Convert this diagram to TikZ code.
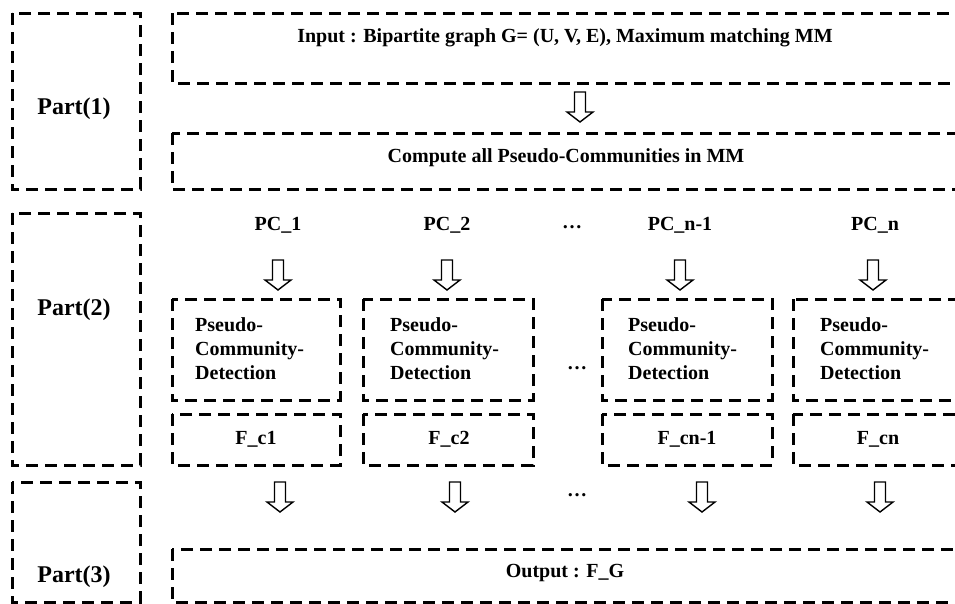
\documentclass[tikz,border=0pt]{standalone}
\usepackage{fontspec}
\setmainfont{Liberation Serif}
\begin{document}
\begin{tikzpicture}[x=1pt,y=-1pt,
  dbox/.style={draw=black, line width=3pt, dash pattern=on 12pt off 7pt},
  lbl/.style={font=\fontsize{20}{24}\selectfont\bfseries, inner sep=0pt, anchor=center},
  partlbl/.style={font=\fontsize{24}{28}\selectfont\bfseries, inner sep=0pt, anchor=center},
  pcd/.style={font=\fontsize{20}{24}\selectfont\bfseries, inner sep=0pt, anchor=west, align=left},
  downarrow/.pic={\draw[line width=1.4pt, fill=white, line join=miter]
     (-5.5,0) -- (5.5,0) -- (5.5,20) -- (13,20) -- (0,30) -- (-13,20) -- (-5.5,20) -- cycle;}
]
\useasboundingbox (0,0) rectangle (955,603);
% part boxes
\draw[dbox] (12,13) rectangle (140,189);
\draw[dbox] (12,213) rectangle (140,465);
\draw[dbox] (12,482) rectangle (140,602);
\node[partlbl] (p1) at (74,109) {Part(1)};
\node[partlbl] (p2) at (74,310) {Part(2)};
\node[partlbl] (p3) at (74,577) {Part(3)};
% part 1
\draw[dbox] (172,13) rectangle (975,83);
\draw[dbox] (172,133) rectangle (975,189);
\node[lbl] (inp) at (565,38) {Input : Bipartite graph G= (U, V, E), Maximum matching MM};
\node[lbl] (cmp) at (566,158) {Compute all Pseudo-Communities in MM};
\pic (a0) at (580,92) {downarrow};
% part 2
\node[lbl] (pc1) at (278,225) {PC\_1};
\node[lbl] (pc2) at (447,225) {PC\_2};
\node[lbl] (dt1) at (572,227) {\ldots};
\node[lbl] (pcn1) at (680,225) {PC\_n-1};
\node[lbl] (pcn) at (875,225) {PC\_n};
\pic (a1) at (278,260) {downarrow};
\pic (a2) at (447,260) {downarrow};
\pic (a3) at (680,260) {downarrow};
\pic (a4) at (873,260) {downarrow};
\draw[dbox] (172,299) rectangle (340,400);
\draw[dbox] (363,299) rectangle (533,400);
\draw[dbox] (602,299) rectangle (772,400);
\draw[dbox] (793,299) rectangle (975,400);
\node[pcd] (d1) at (195,349) {Pseudo-\\Community-\\Detection};
\node[pcd] (d2) at (390,349) {Pseudo-\\Community-\\Detection};
\node[pcd] (d3) at (628,349) {Pseudo-\\Community-\\Detection};
\node[pcd] (d4) at (820,349) {Pseudo-\\Community-\\Detection};
\node[lbl] (dt2) at (577,368) {\ldots};
\draw[dbox] (172,414) rectangle (340,465);
\draw[dbox] (363,414) rectangle (533,465);
\draw[dbox] (602,414) rectangle (772,465);
\draw[dbox] (793,414) rectangle (975,465);
\node[lbl] (f1) at (256,439) {F\_c1};
\node[lbl] (f2) at (449,439) {F\_c2};
\node[lbl] (f3) at (687,439) {F\_cn-1};
\node[lbl] (f4) at (878,439) {F\_cn};
% part 3
\pic (b1) at (280,482) {downarrow};
\pic (b2) at (455,482) {downarrow};
\pic (b3) at (702,482) {downarrow};
\pic (b4) at (880,482) {downarrow};
\node[lbl] (dt3) at (577,495) {\ldots};
\draw[dbox] (172,549) rectangle (975,602);
\node[lbl] (out) at (565,573) {Output : F\_G};
\end{tikzpicture}
\end{document}
